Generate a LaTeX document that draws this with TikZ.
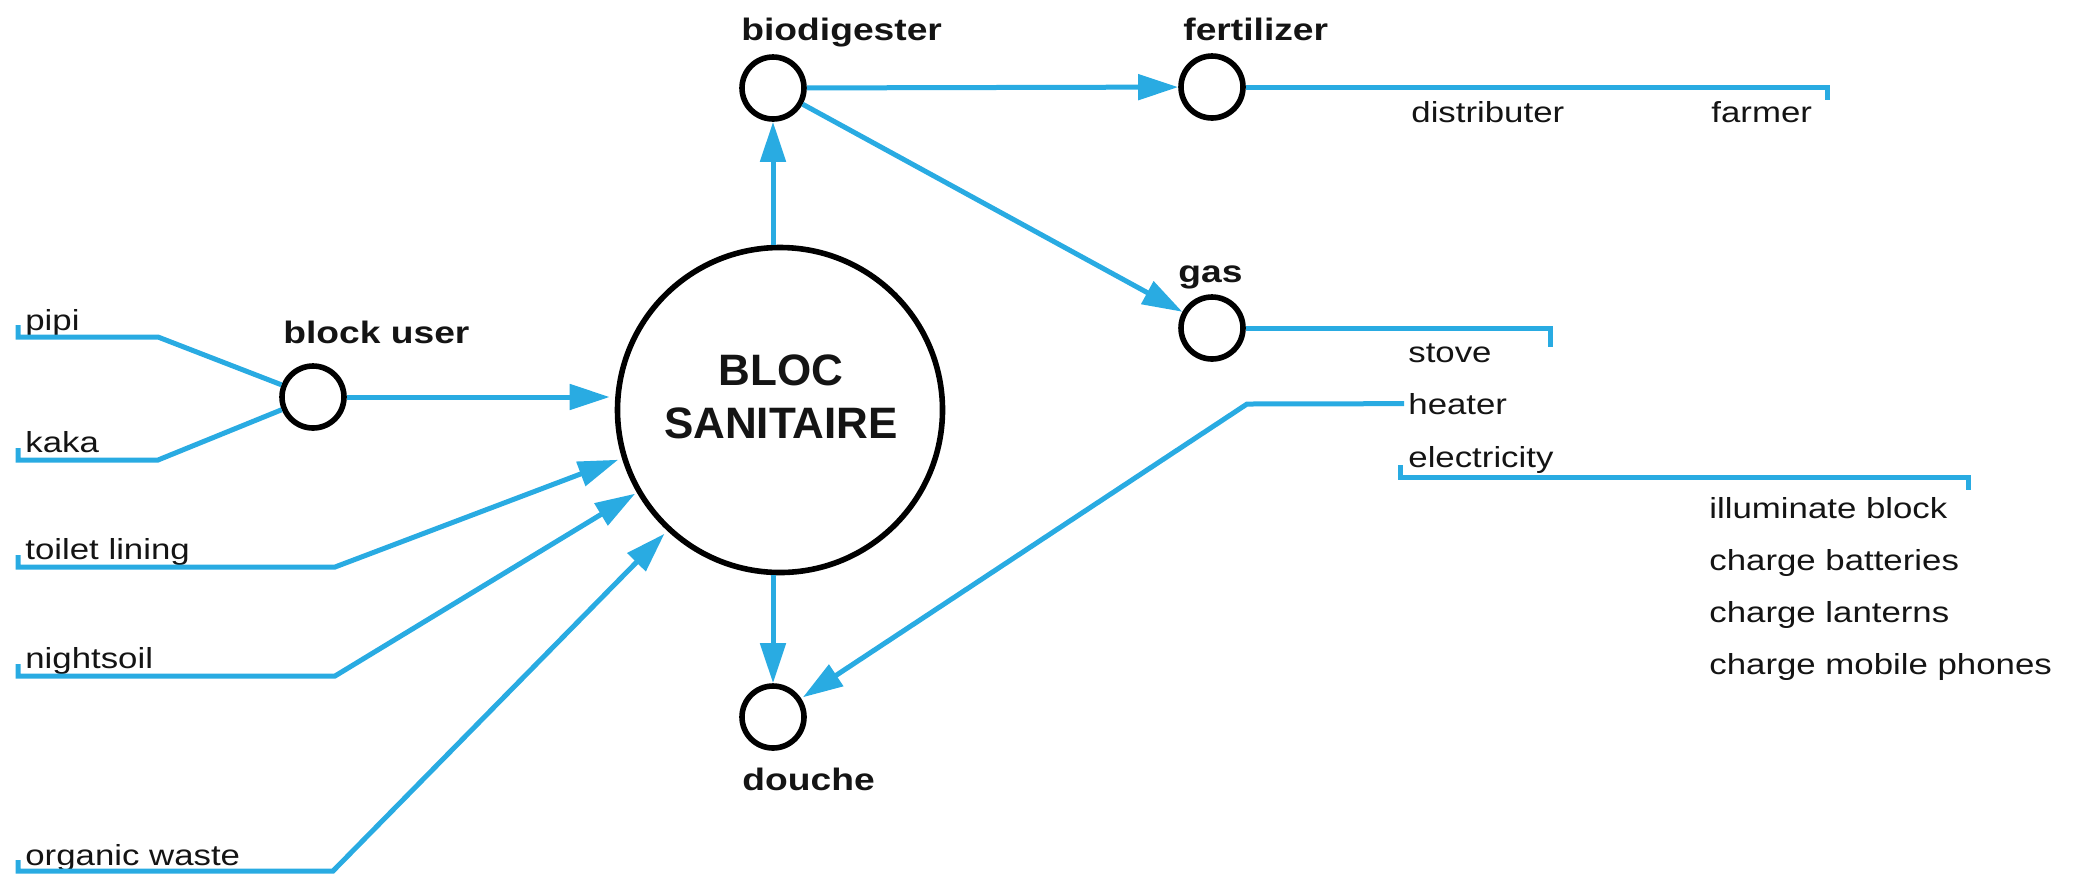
\documentclass[tikz,border=0pt]{standalone}
\usepackage{fontspec}
\setmainfont{Liberation Sans}
\newfontfamily\regfont[FakeStretch=1.2]{Liberation Sans}
\usetikzlibrary{arrows.meta,calc}
\definecolor{flow}{RGB}{41,171,226}
\definecolor{ink}{RGB}{20,20,20}
\begin{document}
\begin{tikzpicture}[x=0.5pt,y=-0.5pt,
  flowline/.style={draw=flow, line width=2.5pt},
  arr/.style={flowline, -{Triangle[length=20pt,width=12.5pt]}},
  hub/.style={circle, draw=black, line width=2.8pt, minimum size=31pt, inner sep=0pt},
  bighub/.style={circle, draw=black, line width=2.8pt, minimum size=162.5pt, inner sep=0pt},
  lab/.style={anchor=base west, inner sep=0pt, text=ink, font=\regfont\fontsize{14.5}{17}\selectfont},
  hlab/.style={anchor=base west, inner sep=0pt, text=ink, font=\regfont\bfseries\fontsize{15.5}{18}\selectfont},
  btext/.style={anchor=base, inner sep=0pt, text=ink, font=\bfseries\fontsize{22}{26}\selectfont}
]
\useasboundingbox (0,0) rectangle (2081,875);

% hubs
\node[bighub] (big) at (780,410) {};
\node[btext] (bloc) at (781,385) {BLOC};
\node[btext] (sanit) at (781,438) {SANITAIRE};
\node[hub] (bu) at (313,397) {};
\node[hub] (bio) at (773,88) {};
\node[hub] (fert) at (1212,87) {};
\node[hub] (gas) at (1212,328) {};
\node[hub] (dou) at (773,717) {};

% hub labels
\node[hlab] (bul) at (283,343) {block user};
\node[hlab] (biol) at (741,40) {biodigester};
\node[hlab] (fertl) at (1183,40) {fertilizer};
\node[hlab] (gasl) at (1178,282) {gas};
\node[hlab] (doul) at (742,790) {douche};

% left labels
\node[lab] (pipi) at (25,330) {pipi};
\node[lab] (kaka) at (25,452) {kaka};
\node[lab] (toilet) at (25,559) {toilet lining};
\node[lab] (night) at (25,668) {nightsoil};
\node[lab] (organic) at (25,865) {organic waste};

% right labels
\node[lab] (distr) at (1411,122) {distributer};
\node[lab] (farmer) at (1711,122) {farmer};
\node[lab] (stove) at (1408,362) {stove};
\node[lab] (heater) at (1408,414) {heater};
\node[lab] (elec) at (1408,467) {electricity};
\node[lab] (illum) at (1709,518) {illuminate block};
\node[lab] (batt) at (1709,570) {charge batteries};
\node[lab] (lant) at (1709,622) {charge lanterns};
\node[lab] (phones) at (1709,674) {charge mobile phones};

% corner coordinates
\coordinate (pipiA) at (18,325);
\coordinate (pipiB) at (158,337);
\coordinate (kakaA) at (18,448);
\coordinate (kakaB) at (158,460);
\coordinate (toilA) at (18,555);
\coordinate (toilB) at (335,567);
\coordinate (nightA) at (18,664);
\coordinate (nightB) at (335,676);
\coordinate (orgA) at (18,860);
\coordinate (orgB) at (333,871);
\coordinate (fertT) at (1827,100);
\coordinate (gasT) at (1550,347);
\coordinate (hc) at (1247,404);
\coordinate (elA) at (1400,465);
\coordinate (elB) at (1400,477);
\coordinate (elC) at (1968,477);
\coordinate (elD) at (1968,490);

% inputs
\draw[flowline] (pipiA) |- (pipiB) -- (bu);
\draw[flowline] (kakaA) |- (kakaB) -- (bu);
\draw[arr, shorten >=2.5pt] (bu) -- (bu -| big.west);
\draw[arr, shorten >=2pt] (toilA) |- (toilB) -- (big.197);
\draw[arr, shorten >=1pt] (nightA) |- (nightB) -- (big.210);
\draw[arr, shorten >=2pt] (orgA) |- (orgB) -- (big.227);

% outputs
\draw[arr] (big.north -| bio) -- (bio);
\draw[arr] (big.south -| dou) -- (dou);
\draw[arr] (bio) -- (fert);
\draw[arr] (bio) -- (gas);
\draw[flowline] (fert) -| (fertT);
\draw[flowline] (gas) -| (gasT);
\draw[arr, shorten <=2pt, shorten >=1pt] (heater.west) -- (hc) -- (dou);
\draw[flowline] (elA) -- (elB) -- (elC) -- (elD);
\end{tikzpicture}
\end{document}
